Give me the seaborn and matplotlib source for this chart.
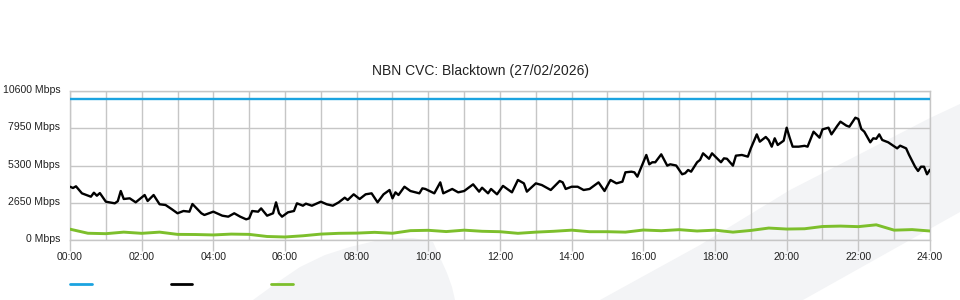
import matplotlib
matplotlib.use("Agg")
import matplotlib.pyplot as plt
import matplotlib.transforms as mtransforms
from matplotlib.lines import Line2D
from matplotlib.patches import Polygon
import numpy as np
import pandas as pd
import seaborn as sns

# ---------------- data ----------------
TITLE = "NBN CVC: Blacktown (27/02/2026)"
CAPACITY_MBPS = 10000

Y_TICKS = [0, 2650, 5300, 7950, 10600]
Y_TICK_LABELS = ["0 Mbps", "2650 Mbps", "5300 Mbps", "7950 Mbps", "10600 Mbps"]
X_TICKS_H = [0, 2, 4, 6, 8, 10, 12, 14, 16, 18, 20, 22, 24]
X_TICK_LABELS = ["00:00", "02:00", "04:00", "06:00", "08:00", "10:00", "12:00",
                 "14:00", "16:00", "18:00", "20:00", "22:00", "24:00"]

usage_times = [
    "00:00", "00:05", "00:10", "00:20", "00:35", "00:40", "00:45", "00:50", "01:00", "01:15",
    "01:20", "01:25", "01:30", "01:40", "01:50", "02:05", "02:10", "02:20", "02:30", "02:40",
    "02:50", "03:00", "03:10", "03:20", "03:25", "03:40", "03:45", "04:00", "04:15", "04:25",
    "04:35", "04:45", "04:55", "05:00", "05:05", "05:15", "05:20", "05:30", "05:40", "05:45",
    "05:50", "05:55", "06:05", "06:15", "06:20", "06:30", "06:35", "06:45", "07:00", "07:10",
    "07:20", "07:30", "07:40", "07:45", "07:55", "08:05", "08:15", "08:25", "08:35", "08:45",
    "08:55", "09:00", "09:05", "09:10", "09:20", "09:30", "09:45", "09:50", "09:55", "10:10",
    "10:20", "10:25", "10:40", "10:50", "11:00", "11:15", "11:25", "11:30", "11:40", "11:45",
    "11:55", "12:05", "12:20", "12:30", "12:40", "12:45", "13:00", "13:10", "13:25", "13:40",
    "13:45", "13:50", "14:00", "14:10", "14:20", "14:30", "14:45", "14:55", "15:05", "15:15",
    "15:25", "15:30", "15:40", "15:45", "15:50", "16:05", "16:10", "16:15", "16:20", "16:30",
    "16:40", "16:45", "16:55", "17:05", "17:10", "17:15", "17:20", "17:30", "17:35", "17:40",
    "17:50", "17:55", "18:10", "18:15", "18:20", "18:30", "18:35", "18:45", "18:55", "19:00",
    "19:10", "19:15", "19:25", "19:30", "19:35", "19:40", "19:45", "19:55", "20:00", "20:05",
    "20:10", "20:20", "20:30", "20:35", "20:45", "20:55", "21:00", "21:10", "21:15", "21:25",
    "21:30", "21:40", "21:45", "21:55", "22:00", "22:05", "22:10", "22:20", "22:25", "22:30",
    "22:35", "22:40", "22:50", "23:05", "23:10", "23:20", "23:25", "23:35", "23:40", "23:45",
    "23:50", "23:55", "24:00",
]
usage_mbps = [
    3790, 3700, 3820, 3320, 3080, 3365, 3150, 3340, 2725, 2610,
    2760, 3485, 2917, 2965, 2680, 3200, 2775, 3200, 2540, 2490,
    2205, 1900, 2063, 2015, 2560, 1900, 1780, 2015, 1730, 1660,
    1900, 1660, 1470, 1540, 2063, 2015, 2250, 1730, 1900, 2680,
    1900, 1660, 1970, 2063, 2610, 2440, 2585, 2440, 2725, 2540,
    2440, 2680, 3010, 2845, 3250, 2917, 3250, 3320, 2680, 3250,
    3557, 2965, 3390, 3200, 3790, 3485, 3320, 3675, 3630, 3320,
    4100, 3320, 3630, 3390, 3485, 3960, 3440, 3720, 3320, 3630,
    3250, 3850, 3390, 4270, 4030, 3440, 4030, 3910, 3557, 4200,
    4100, 3630, 3790, 3790, 3557, 3630, 4100, 3485, 4270, 4030,
    4150, 4815, 4860, 4815, 4505, 6050, 5385, 5530, 5530, 6095,
    5290, 5385, 5300, 4675, 4750, 4980, 4860, 5530, 5700, 6165,
    5780, 6165, 5530, 5810, 5780, 5290, 6000, 6050, 5930, 6520,
    7515, 6995, 7330, 7100, 6640, 7235, 6760, 7065, 7990, 7280,
    6640, 6640, 6700, 6640, 7705, 7280, 7870, 7990, 7515, 8135,
    8420, 8135, 8060, 8700, 8610, 7895, 7705, 6950, 7235, 7200,
    7515, 7115, 6950, 6520, 6710, 6520, 6050, 5215, 4910, 5215,
    5215, 4675, 5000,
]

upload_times = [
    "00:00", "00:30", "01:00", "01:30", "02:00", "02:30", "03:00", "03:30", "04:00", "04:30",
    "05:00", "05:30", "06:00", "06:30", "07:00", "07:30", "08:00", "08:30", "09:00", "09:30",
    "10:00", "10:30", "11:00", "11:30", "12:00", "12:30", "13:00", "13:30", "14:00", "14:30",
    "15:00", "15:30", "16:00", "16:30", "17:00", "17:30", "18:00", "18:30", "19:00", "19:30",
    "20:00", "20:30", "21:00", "21:30", "22:00", "22:30", "23:00", "23:30", "24:00",
]
upload_mbps = [
    770, 480, 450, 560, 475, 560, 400, 390, 360, 420,
    400, 250, 215, 300, 420, 475, 490, 545, 480, 665,
    690, 600, 700, 620, 590, 475, 560, 620, 700, 590,
    590, 560, 710, 660, 735, 640, 700, 560, 680, 850,
    780, 800, 960, 990, 950, 1080, 700, 740, 640,
]

# ---------------- styling ----------------
BLUE = "#1ba3e0"
BLACK = "#000000"
GREEN = "#7dbf2c"
GRID = "#c6c6c6"
WATERMARK = "#f3f4f6"

sns.set_theme(style="white")
plt.rcParams["font.family"] = ["Liberation Sans", "DejaVu Sans"]


def to_hours(t):
    h, m = t.split(":")
    return int(h) + int(m) / 60.0


usage = pd.DataFrame({"hour": [to_hours(t) for t in usage_times], "mbps": usage_mbps})
upload = pd.DataFrame({"hour": [to_hours(t) for t in upload_times], "mbps": upload_mbps})

W, H = 960, 300
fig = plt.figure(figsize=(W / 100, H / 100), dpi=100, facecolor="white")


def fp(pts):
    return [(x / W, 1 - y / H) for x, y in pts]


# faint background watermark shapes (drawn in a background axes)
bg = fig.add_axes([0, 0, 1, 1], zorder=-5)
bg.set_axis_off()
bg.set_xlim(0, 1)
bg.set_ylim(0, 1)
bg.add_patch(Polygon(fp([(600, 300), (700, 245), (790, 190), (930, 118), (960, 104),
                         (960, 212), (803, 300)]),
                     closed=True, facecolor=WATERMARK, edgecolor="none"))
bg.add_patch(Polygon(fp([(253, 300), (275, 284), (300, 267), (325, 255), (350, 247),
                         (375, 241), (400, 238), (413, 238), (433, 242), (447, 273),
                         (452, 287), (455, 300)]),
                     closed=True, facecolor=WATERMARK, edgecolor="none"))

ax = fig.add_axes([70 / W, 60 / H, 860 / W, 149 / H], zorder=1)
ax.set_facecolor("none")

ax.axhline(CAPACITY_MBPS, color=BLUE, lw=1.7, zorder=3)
sns.lineplot(data=upload, x="hour", y="mbps", color=GREEN, lw=2.1, ax=ax, legend=False, zorder=3)
sns.lineplot(data=usage, x="hour", y="mbps", color=BLACK, lw=1.7, ax=ax, legend=False, zorder=4)

ax.set_xlim(0, 24)
ax.set_ylim(0, 10600)
ax.set_xticks(X_TICKS_H)
ax.set_xticklabels(X_TICK_LABELS, fontsize=7.6, color="#222222")
ax.set_xticks(np.arange(0, 25, 1), minor=True)
ax.set_yticks(Y_TICKS)
ax.set_yticklabels(Y_TICK_LABELS, fontsize=7.6, color="#222222")
ax.set_xlabel("")
ax.set_ylabel("")

ax.grid(True, which="both", color=GRID, lw=1.0, zorder=1)
ax.set_axisbelow(True)
ax.tick_params(axis="x", which="major", length=8, width=1, color=GRID, pad=1, bottom=True)
ax.tick_params(axis="x", which="minor", length=0)
ax.tick_params(axis="y", length=0, pad=7)
lift = mtransforms.ScaledTranslation(0, 2 / 100, fig.dpi_scale_trans)
for lab in ax.get_yticklabels():
    lab.set_transform(lab.get_transform() + lift)
for s in ax.spines.values():
    s.set_color(GRID)
    s.set_linewidth(1.0)

fig.text(480 / W, 1 - 71 / H, TITLE, ha="center", va="center", fontsize=10, color="#222222")

handles = [Line2D([], [], color=BLUE, lw=2), Line2D([], [], color=BLACK, lw=2),
           Line2D([], [], color=GREEN, lw=2)]
fig.legend(handles=handles, labels=["", "", ""], ncol=3, loc="center left",
           bbox_to_anchor=(70 / W, 1 - 285 / H), frameon=False, fontsize=8,
           handlelength=1.95, handletextpad=0.0, columnspacing=7.1,
           borderpad=0, borderaxespad=0)

fig.savefig("out.png", dpi=100, facecolor="white")
